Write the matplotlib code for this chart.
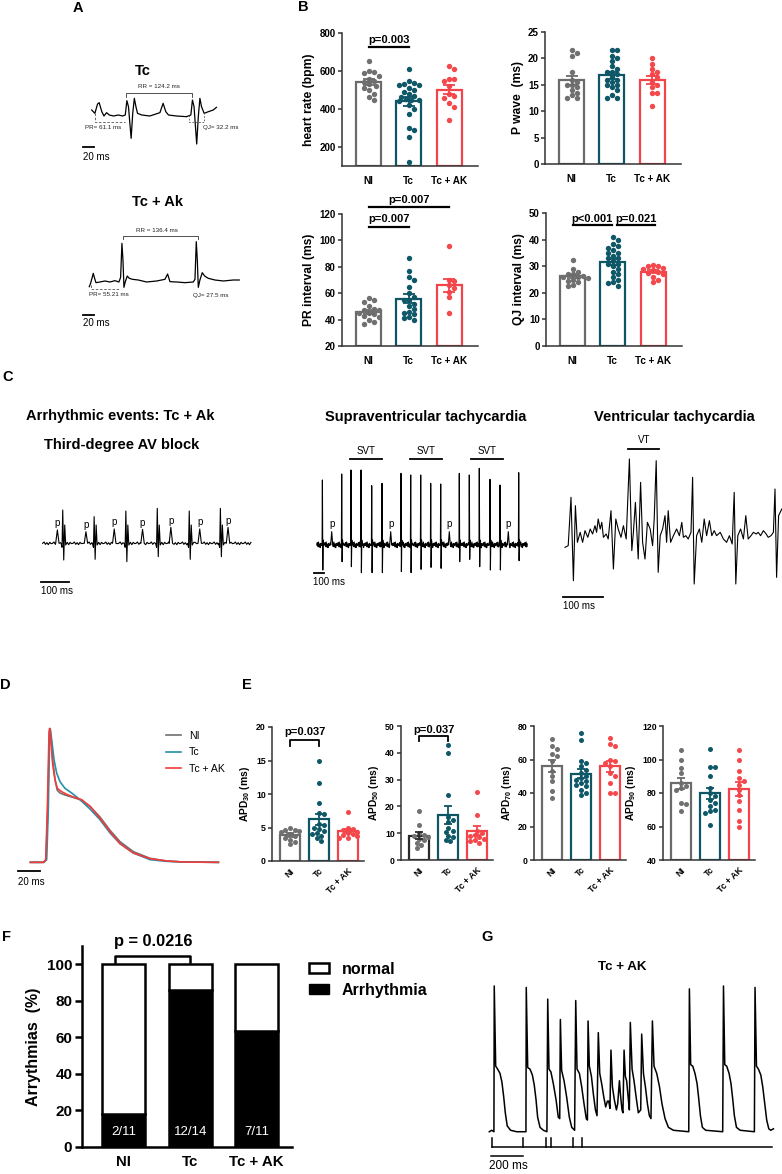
import numpy as np
import matplotlib
matplotlib.use("Agg")
import matplotlib.pyplot as plt
from matplotlib.patches import Patch

plt.rcParams.update({
    "font.family": ["Liberation Sans", "DejaVu Sans"],
    "mathtext.fontset": "custom",
    "mathtext.rm": "Liberation Sans",
    "mathtext.bf": "Liberation Sans:bold",
    "mathtext.default": "bf",
    "axes.linewidth": 1.1,
    "axes.edgecolor": "#333333",
    "xtick.color": "#333333",
    "ytick.color": "#333333",
    "xtick.labelcolor": "black",
    "ytick.labelcolor": "black",
})

W, H = 782, 1174

# ---------------- data ----------------
GROUPS = ["NI", "Tc", "Tc + AK"]
EDGE = ["#6b6b6b", "#0e5566", "#f2444a"]
DOTC = ["#707070", "#0f5868", "#f4484b"]

# B: ECG parameters
heart_ni = [655, 600, 595, 590, 575, 560, 545, 540, 530, 520, 510, 500, 480, 450, 465]
heart_tc = [610, 545, 535, 530, 528, 525, 510, 500, 490, 480, 470, 465, 455, 450, 445,
            440, 420, 400, 375, 300, 290, 255, 120]
heart_ak = [625, 610, 560, 550, 560, 520, 480, 470, 460, 430, 410, 340]

pwave_ni = [21.5, 20.5, 21, 17.5, 16, 15.5, 15, 14, 13.5, 13, 12.5, 12.5, 15, 14.5]
pwave_tc = [21.5, 21.5, 20, 20.5, 19.5, 18, 18.5, 17.5, 17, 16.5, 16, 15.5, 15, 14.5,
            14, 13, 12.5, 12.5, 17.5, 16, 15]
pwave_ak = [20, 19, 18, 17.5, 17, 16.5, 15.5, 14.5, 13.5, 13.5, 11, 15]

pr_ni = [56, 55, 53, 50, 48, 47, 45, 45, 43, 42, 40, 38, 37, 44, 47]
pr_tc = [87, 77, 72, 70, 65, 60, 57, 55, 52, 50, 48, 46, 45, 44, 42, 41, 40, 55]
pr_ak = [96, 70, 69, 66, 64, 61, 57, 45]

qj_ni = [32.5, 29, 28, 27, 26.5, 26, 25.5, 25, 24.5, 24, 23, 22.5, 27, 26]
qj_tc = [41, 40, 38.5, 37.5, 37, 36, 35, 34, 33, 32, 31, 30, 29, 28, 27, 26, 25, 24,
         23.5, 22.5, 31, 33, 35]
qj_ak = [30.5, 30, 30, 29.5, 29, 28.5, 28, 27.5, 27, 26, 25, 24]

# E: action potential durations
apd30_ni = [4.9, 4.7, 4.5, 4.3, 4.0, 3.8, 3.5, 3.2, 2.8, 2.5, 4.6]
apd30_tc = [15, 11.7, 8.6, 7.2, 7.0, 5.5, 5.0, 4.8, 4.5, 4.2, 4.0, 3.8, 3.5, 3.0, 5.3]
apd30_ak = [7.3, 5.0, 4.8, 4.6, 4.4, 4.2, 4.0, 3.9, 3.7, 3.5, 3.4]

apd50_ni = [18.3, 13.2, 10, 9.5, 9, 8.5, 8, 7.5, 6.5, 5.5, 4.5]
apd50_tc = [43, 40, 24.2, 16, 15, 14, 12, 11, 10.5, 9, 8.5, 7.5, 7]
apd50_ak = [25.3, 16.8, 11, 10, 9.5, 9, 8.5, 8, 7.5, 7, 6.5]

apd70_ni = [72, 68, 66, 63, 62, 59, 53, 50, 47, 41, 37]
apd70_tc = [76, 71.5, 59, 58, 56, 54, 52, 50, 49, 48, 47, 46, 45, 44, 42, 40, 39]
apd70_ak = [73, 69, 68, 60, 59, 58, 56, 50, 46, 40, 40, 52]

apd90_ni = [105.5, 99.5, 95, 92, 86, 84, 82, 74, 73.5, 69, 83]
apd90_tc = [106, 95.5, 95.5, 90, 80, 78, 76, 74, 72, 70, 69, 68, 61, 83]
apd90_ak = [105.5, 99.5, 93, 89, 87, 85, 82, 79, 75, 70, 63, 60]

# F: arrhythmia counts
arr_n = [2, 12, 7]
tot_n = [11, 14, 11]

# A: ECG traces (ms, mV)
a1_t = [0, 3, 6, 11, 14, 19, 23, 28, 33, 41, 50, 58, 63, 66, 69, 74, 77, 80, 83, 86, 94,
        109, 128, 134, 139, 144, 159, 178, 186, 189, 192, 197, 200, 203, 206, 211, 219, 228, 234]
a1_v = [0.15, 0.10, 0.05, 0.33, 0.37, 0.10, -0.03, 0.07, 0, -0.03, 0, -0.03, 0, 0.43, 0.25,
        -0.70, 0.05, 0.50, 0.25, 0.05, 0, -0.03, 0.07, 0.35, 0.10, 0, -0.03, -0.05, 0, 0.45,
        0.25, -0.87, -0.05, 0.50, 0.25, 0.05, 0.10, 0.15, 0.23]
a2_t = [0, 2.4, 4.9, 7.3, 9.8, 12.2, 19.6, 28.7, 37.9, 47.1, 54.4, 57.5, 59.9, 61.8, 63.6,
        66.1, 69.7, 73.4, 79.5, 89.9, 105.2, 123.5, 138.8, 143.7, 148, 160.2, 175.5, 190.8,
        193.9, 196.3, 198.2, 200, 203, 207.3, 211.6, 218.3, 230.6, 245.9, 264.2, 275.2]
a2_v = [-0.15, -0.05, 0.10, 0.25, 0.10, -0.03, -0.01, 0.02, -0.01, 0.03, -0.01, 0.13, 1.15,
        0.65, -0.17, 0, 0.17, 0.10, 0.07, 0.05, -0.01, 0.02, 0.07, 0.23, 0, -0.01, -0.03,
        -0.01, 0.07, 1.20, 0.65, -0.17, 0.05, 0.27, 0.17, 0.10, 0.05, 0.02, 0.05, 0.05]

# C: third-degree AV block (QRS times / heights, P times / heights)
c1_qrs_t = [71, 182, 294, 405, 518, 628]
c1_r = [1.0, 0.8, 0.97, 1.05, 0.97, 1.05]
c1_s = [-0.5, -0.48, -0.55, -0.4, -0.48, -0.4]
c1_p_t = [52, 153, 253, 353, 453, 555, 655]
c1_p_amp = [0.40, 0.35, 0.43, 0.42, 0.48, 0.43, 0.48]
c1_end = 738

# C: supraventricular tachycardia
svt_t = [57, 250, 343, 443, 550, 653, 843, 940, 1040, 1140, 1240, 1426, 1526, 1626, 1733,
         1833, 2020]
svt_top = [1.95, 2.13, 2.25, 2.25, 1.78, 1.85, 2.15, 2.1, 2.1, 1.85, 1.83, 2.15, 2.1, 2.3,
           1.97, 1.8, 2.17]
svt_bot = [-0.75, -0.5, -0.65, -0.83, -0.83, -0.83, -0.8, -0.83, -0.73, -0.67, -0.7, -0.5,
           -0.43, -0.65, -0.75, -0.75, -0.47]
svt_p_t = [150, 740, 1326, 1916]
svt_runs = [(333, 650), (933, 1256), (1543, 1866)]
svt_end = 2107

# C: ventricular tachycardia
vt_t = [0, 8, 15, 21, 26, 31, 38, 44, 50, 57, 63, 69, 75, 79, 83, 88, 92, 96, 103, 108, 115,
        121, 127, 133, 140, 146, 153, 156, 161, 167, 171, 176, 183, 189, 194, 200, 206, 213,
        219, 223, 228, 233, 238, 244, 250, 254, 258, 264, 271, 279, 286, 292, 296, 302, 308,
        315, 319, 323, 329, 336, 342, 348, 354, 361, 367, 373, 379, 388, 396, 404, 411, 418,
        423, 427, 432, 439, 446, 452, 458, 465, 471, 478, 483, 489, 496, 503, 508, 515, 521,
        525, 529, 534, 542]
vt_v = [-0.25, -0.2, 1.25, -1.25, 1.0, -0.1, 0.2, -0.1, 0.25, 0.05, 0.3, 0.15, 0.4, 0.2,
        0.6, 0.3, 0.5, 0.05, 0.15, 0, 0.85, -0.9, 0.6, 0.3, 0.05, 0.4, 0, 0.9, 2.4, -0.35,
        0.2, 1.1, -0.6, 1.7, -0.1, -0.6, 0.5, 0.3, -0.2, 0.6, 2.35, -1.0, 0.1, 0.3, 0.7,
        -0.1, 0.85, -0.1, 0.1, 0.3, 0.1, 0.5, 0.05, 0.1, 0, 0.2, 1.85, -1.35, 0.1, 0.3, -0.1,
        0.6, 0.1, 0.55, 0.1, 0.25, 0.1, 0.2, 0, -0.1, 0.1, -0.15, 1.4, -1.35, 0.1, 0.3, 0,
        0.7, 0, 0.1, 0.2, 0.15, 0.2, 0.1, 0.25, 0.15, 0.05, 0.1, 0.2, 1.5, -1.15, 0.7, 0.9]
vt_run = (158, 236)

# D: averaged action potentials (ms, normalised)
d_ni_t = [-15, -3, -0.6, 0.9, 2.5, 3.1, 4.0, 5.5, 7.7, 9.8, 12.3, 16.9, 23.1, 30.8, 40.0,
          49.2, 58.5, 67.7, 80.0, 95.4, 110.8, 126.2, 158.5]
d_ni_v = [0, 0, 0.02, 0.39, 0.94, 1.0, 0.94, 0.77, 0.62, 0.54, 0.52, 0.505, 0.49, 0.47,
          0.42, 0.34, 0.24, 0.155, 0.08, 0.03, 0.01, 0.0025, 0]
d_tc_t = [-15, -2.5, 0, 1.5, 2.8, 3.4, 4.6, 6.8, 9.2, 12.3, 16.9, 23.1, 30.8, 40.0, 49.2,
          58.5, 67.7, 80.0, 95.4, 110.8, 126.2, 158.5]
d_tc_v = [0, 0, 0.02, 0.39, 0.99, 1.0, 0.92, 0.77, 0.67, 0.605, 0.555, 0.52, 0.47, 0.40,
          0.32, 0.22, 0.14, 0.07, 0.02, 0.0075, 0.0025, 0]
d_ak_t = [-15, -3, -0.9, 0.6, 2.2, 2.8, 3.7, 5.5, 7.7, 9.8, 13.8, 18.5, 24.6, 32.3, 40.0,
          49.2, 58.5, 67.7, 80.0, 95.4, 110.8, 126.2, 158.5]
d_ak_v = [0, 0, 0.02, 0.39, 0.98, 1.005, 0.93, 0.74, 0.62, 0.555, 0.53, 0.51, 0.49, 0.47,
          0.42, 0.33, 0.23, 0.14, 0.07, 0.0275, 0.01, 0.0025, 0]

# G: optical AP trace, Tc + AK (ms, normalised)
g_t = [0, 15, 29, 31, 40, 52, 67, 79, 90, 100, 112, 133, 171, 229, 231, 240, 254, 269, 281,
       292, 302, 317, 338, 360, 365, 373, 385, 400, 417, 431, 440, 444, 452, 467, 483, 500,
       515, 533, 540, 548, 563, 577, 592, 606, 613, 617, 625, 638, 650, 663, 673, 681, 690,
       702, 715, 727, 738, 746, 754, 760, 769, 781, 794, 802, 813, 819, 829, 835, 842, 850,
       858, 869, 875, 881, 892, 904, 917, 931, 946, 952, 963, 975, 988, 1000, 1010, 1019,
       1029, 1046, 1063, 1079, 1098, 1119, 1150, 1246, 1250, 1258, 1271, 1285, 1298, 1308,
       1319, 1331, 1352, 1458, 1463, 1471, 1483, 1498, 1510, 1521, 1531, 1544, 1567, 1656,
       1660, 1669, 1681, 1696, 1708, 1721, 1733, 1746, 1758, 1775]
g_v = [0, 0.01, 0, 1.0, 0.45, 0.43, 0.40, 0.34, 0.24, 0.13, 0.04, 0.01, 0, 0, 0.99, 0.44,
       0.43, 0.39, 0.32, 0.22, 0.10, 0.03, 0.01, 0, 0.91, 0.43, 0.41, 0.33, 0.22, 0.10, 0.09,
       0.77, 0.42, 0.35, 0.24, 0.10, 0.03, 0.01, 0.90, 0.43, 0.40, 0.31, 0.19, 0.09, 0.08,
       0.76, 0.45, 0.38, 0.26, 0.15, 0.11, 0.68, 0.40, 0.33, 0.24, 0.17, 0.21, 0.21, 0.16,
       0.56, 0.31, 0.22, 0.15, 0.19, 0.35, 0.26, 0.15, 0.13, 0.56, 0.38, 0.35, 0.22, 0.15,
       0.75, 0.43, 0.35, 0.24, 0.13, 0.15, 0.67, 0.40, 0.31, 0.19, 0.11, 0.09, 0.76, 0.45,
       0.40, 0.31, 0.19, 0.09, 0.03, 0.01, 0, 0.98, 0.46, 0.45, 0.40, 0.33, 0.23, 0.11, 0.03,
       0.01, 0, 1.0, 0.46, 0.45, 0.40, 0.33, 0.22, 0.11, 0.03, 0.01, 0, 0.99, 0.45, 0.43,
       0.39, 0.31, 0.19, 0.08, 0.02, 0.01, 0.02]
g_stim = [15, 208, 354, 385, 525, 581]

# ---------------- helpers ----------------
fig = plt.figure(figsize=(W / 100, H / 100), dpi=100)


def add_box(l, t, w, h):
    return fig.add_axes([l / W, 1 - (t + h) / H, w / W, h / H])


def ftxt(x, y, s, **kw):
    fig.text(x / W, 1 - y / H, s, **kw)


def trace_ax(l, t, w, h, xlim, ylim):
    ax = add_box(l, t, w, h)
    ax.set_xlim(*xlim)
    ax.set_ylim(*ylim)
    ax.axis("off")
    return ax


def compose(events, t_end, wig, step):
    """Join beat shapes in time order, with a small baseline ripple between them."""
    ts, vs = [], []
    t, k = 0.0, 0
    for onset, st, sv in sorted(events, key=lambda e: e[0] + e[1][0]):
        start = onset + st[0]
        while t < start:
            ts.append(t)
            vs.append(wig[k % len(wig)])
            k += 1
            t += step
        ts.extend(onset + np.asarray(st, float))
        vs.extend(sv)
        t = onset + st[-1] + step
    while t <= t_end:
        ts.append(t)
        vs.append(wig[k % len(wig)])
        k += 1
        t += step
    return np.array(ts), np.array(vs)


def swarm(ax, vals, d_px):
    bb = ax.get_position()
    ppx = bb.width * W / np.diff(ax.get_xlim())[0]
    ppy = bb.height * H / np.diff(ax.get_ylim())[0]
    ys = np.asarray(vals, float) * ppy
    cands = [0.0]
    for j in range(1, 40):
        cands += [j * d_px * 0.5, -j * d_px * 0.5]
    placed, offs = [], np.zeros(len(ys))
    for idx in np.argsort(-ys):
        y = ys[idx]
        for c in cands:
            if all((c - px) ** 2 + (y - py) ** 2 >= d_px ** 2 for px, py in placed):
                break
        placed.append((c, y))
        offs[idx] = c / ppx
    return offs


def bar_panel(box, data, ylim, yticks, ylabel, xlim, bw, fs_tick, fs_lab, fs_x,
              rot=0, edges=EDGE, dot_d=5.0, s=15, cap=4, lw=1.6):
    ax = add_box(*box)
    ax.set_xlim(*xlim)
    ax.set_ylim(*ylim)
    for sp in ["top", "right"]:
        ax.spines[sp].set_visible(False)
    for i, vals in enumerate(data):
        vals = np.asarray(vals, float)
        m = vals.mean()
        sem = vals.std(ddof=1) / np.sqrt(len(vals))
        ax.bar(i, m - ylim[0], bottom=ylim[0], width=bw, facecolor="white",
               edgecolor=edges[i], linewidth=lw, zorder=1)
        offs = swarm(ax, vals, dot_d)
        ax.scatter(i + offs, vals, s=s, color=DOTC[i], linewidths=0, zorder=3)
        ax.errorbar(i, m, yerr=sem, fmt="none", ecolor=edges[i], elinewidth=1.3,
                    capsize=cap, capthick=1.3, zorder=4)
    ax.set_yticks(yticks)
    ax.set_xticks(range(3))
    if rot:
        ax.set_xticklabels(GROUPS, rotation=rot, ha="right", rotation_mode="anchor",
                           fontsize=fs_x, fontweight="bold")
        ax.tick_params(axis="x", length=0, pad=4)
    else:
        ax.set_xticklabels(GROUPS, fontsize=fs_x, fontweight="bold")
        ax.tick_params(axis="x", length=0, pad=7)
    ax.tick_params(axis="y", labelsize=fs_tick, length=3, width=1.1, pad=1.5)
    for lab in ax.get_yticklabels():
        lab.set_fontweight("bold")
    ax.set_ylabel(ylabel, fontsize=fs_lab, fontweight="bold", labelpad=3)
    return ax


def underline(ax, x0, x1, y, ty, label, fs=8):
    ax.plot([x0, x1], [y, y], color="black", lw=1.6, clip_on=False, zorder=5)
    ax.text((x0 + x1) / 2, ty, label, ha="center", va="center", fontsize=fs,
            fontweight="bold", clip_on=False)


def bracket(ax, x0, x1, y, leg, ty, label, fs=8, lw=1.3):
    ax.plot([x0, x0, x1, x1], [y - leg, y, y, y - leg], color="black", lw=lw,
            clip_on=False, zorder=5)
    ax.text((x0 + x1) / 2, ty, label, ha="center", va="center", fontsize=fs,
            fontweight="bold", clip_on=False)


LETTER = dict(fontsize=10.5, fontweight="bold", ha="left", va="center")
TITLE = dict(fontsize=10.5, fontweight="bold", ha="center", va="center")

# ---------------- panel A ----------------
ftxt(73, 8, "A", **LETTER)
ftxt(143, 71, "Tc", **TITLE)
ftxt(158, 202, "Tc + Ak", **TITLE)

ax = trace_ax(75, 80, 170, 85, (-31.3, 287.6), (-1.5, 1.05))
ax.plot(a1_t, a1_v, color="black", lw=0.9)
ax.plot([64, 64, 189, 189], [0.55, 0.65, 0.65, 0.55], color="#333333", lw=0.6)
ax.text(127, 0.87, "RR = 124.2 ms", fontsize=4.5, ha="center", va="center", color="#222222")
ax.plot([6, 6, 62], [0.05, -0.2, -0.2], color="#555555", lw=0.6, ls=(0, (3, 2)))
ax.plot([183, 183, 211, 211], [0.0, -0.2, -0.2, 0.05], color="#555555", lw=0.6, ls=(0, (2, 2)))
ax.text(-12.5, -0.37, "PR= 61.1 ms", fontsize=4.5, ha="left", va="center", color="#222222")
ax.text(209, -0.37, "QJ= 32.2 ms", fontsize=4.5, ha="left", va="center", color="#222222")
ax.plot([-15.6, 4.4], [-0.96, -0.96], color="black", lw=1.3, clip_on=False)
ax.text(-15.6, -1.27, "20 ms", fontsize=7, ha="left", va="center")

ax = trace_ax(75, 200, 170, 130, (-26.2, 285.7), (-1.45, 2.45))
ax.plot(a2_t, a2_v, color="black", lw=0.9)
ax.plot([62.4, 62.4, 200, 200], [1.27, 1.37, 1.37, 1.27], color="#333333", lw=0.6)
ax.text(123.5, 1.55, "RR = 136.4 ms", fontsize=4.5, ha="center", va="center", color="#222222")
ax.plot([2.4, 2.4, 56], [-0.1, -0.23, -0.23], color="#555555", lw=0.6, ls=(0, (3, 2)))
ax.text(0, -0.4, "PR= 55.21 ms", fontsize=4.5, ha="left", va="center", color="#222222")
ax.text(190, -0.4, "QJ= 27.5 ms", fontsize=4.5, ha="left", va="center", color="#222222")
ax.plot([-11.6, 8.4], [-1.0, -1.0], color="black", lw=1.3, clip_on=False)
ax.text(-11.6, -1.25, "20 ms", fontsize=7, ha="left", va="center")

# ---------------- panel B ----------------
ftxt(298, 7, "B", **LETTER)
BX = (-0.66, 2.72)
ax = bar_panel((342, 33, 136, 133), [heart_ni, heart_tc, heart_ak], (100, 800),
               [200, 400, 600, 800], "heart rate (bpm)", BX, 0.62, 7, 8.7, 7.2)
underline(ax, 0, 1, 726, 763, "p=0.003")
bar_panel((545, 32, 136, 132), [pwave_ni, pwave_tc, pwave_ak], (0, 25),
          [0, 5, 10, 15, 20, 25], "P wave  (ms)", BX, 0.62, 7, 8.7, 7.2)
ax = bar_panel((342, 214, 136, 132), [pr_ni, pr_tc, pr_ak], (20, 120),
               [20, 40, 60, 80, 100, 120], "PR interval (ms)", BX, 0.62, 7, 8.7, 7.2)
underline(ax, 0, 1, 110, 116, "p=0.007")
underline(ax, 0, 2, 125.3, 130.8, "p=0.007")
ax = bar_panel((546, 213, 136, 133), [qj_ni, qj_tc, qj_ak], (0, 50),
               [0, 10, 20, 30, 40, 50], "QJ interval (ms)", BX, 0.62, 7, 8.7, 7.2)
underline(ax, 0, 0.98, 45.5, 47.8, "p<0.001")
underline(ax, 1.1, 2.05, 45.5, 47.8, "p=0.021")

# ---------------- panel C ----------------
ftxt(2, 377, "C", **LETTER)
ftxt(120, 416, "Arrhythmic events: Tc + Ak", **TITLE)
ftxt(122, 445, "Third-degree AV block", **TITLE)
ftxt(426, 417, "Supraventricular tachycardia", **TITLE)
ftxt(674, 417, "Ventricular tachycardia", **TITLE)

ev = []
for t0, r, sd in zip(c1_qrs_t, c1_r, c1_s):
    ev.append((t0, [-6, -2.5, 0, 3.5, 7, 10.5, 16], [0, -0.12, r, sd, 0.55, -0.05, 0.03]))
for t0, a in zip(c1_p_t, c1_p_amp):
    ev.append((t0, [-6, 0, 6], [0, a, 0]))
c1_x, c1_y = compose(ev, c1_end, [0.0, 0.04, -0.03, 0.02, -0.04, 0.03, -0.01], 5)
ax = trace_ax(35, 495, 225, 105, (-27, 768), (-1.7, 1.45))
ax.plot(c1_x, c1_y, color="black", lw=0.8)
for t0, a in zip(c1_p_t, c1_p_amp):
    ax.text(t0, a + 0.2, "p", fontsize=7, ha="center", va="center")
ax.plot([-7, 93], [-1.15, -1.15], color="black", lw=1.3, clip_on=False)
ax.text(-7, -1.42, "100 ms", fontsize=7, ha="left", va="center")

ev = []
for t0, tp, bt in zip(svt_t, svt_top, svt_bot):
    ev.append((t0, [-3, 0, 4, 8, 14], [0, tp, bt, 0.15, 0]))
for t0 in svt_p_t:
    ev.append((t0, [-10, 0, 10], [0, 0.4, 0]))
svt_x, svt_y = compose(ev, svt_end, [0.0, 0.07, -0.05, 0.09, -0.06, 0.03, -0.08, 0.05, -0.02], 6)
ax = trace_ax(305, 440, 230, 160, (-117, 2183), (-1.65, 3.15))
ax.plot(svt_x, svt_y, color="black", lw=0.8)
for t0 in svt_p_t:
    ax.text(t0, 0.62, "p", fontsize=7, ha="center", va="center")
for a, b in svt_runs:
    ax.plot([a, b], [2.57, 2.57], color="black", lw=1.3)
    ax.text((a + b) / 2, 2.83, "SVT", fontsize=7, ha="center", va="center")
ax.plot([-27, 73], [-0.83, -0.83], color="black", lw=1.3, clip_on=False)
ax.text(-33, -1.1, "100 ms", fontsize=7, ha="left", va="center")

ax = trace_ax(555, 440, 227, 180, (-25, 542.5), (-2.43, 2.97))
ax.plot(vt_t, vt_v, color="black", lw=0.8)
ax.plot(vt_run, [2.7, 2.7], color="black", lw=1.3)
ax.text(sum(vt_run) / 2, 2.97, "VT", fontsize=7, ha="center", va="center")
ax.plot([-4, 96], [-1.73, -1.73], color="black", lw=1.3, clip_on=False)
ax.text(-5, -2.0, "100 ms", fontsize=7, ha="left", va="center")

# ---------------- panel D ----------------
ftxt(0, 685, "D", **LETTER)
ax = trace_ax(25, 720, 200, 170, (-20, 164.6), (-0.2075, 1.0675))
l1, = ax.plot(d_ni_t, d_ni_v, color="#707070", lw=1.2, label="NI")
l2, = ax.plot(d_tc_t, d_tc_v, color="#2490a6", lw=1.2, label="Tc")
l3, = ax.plot(d_ak_t, d_ak_v, color="#f23c3c", lw=1.2, label="Tc + AK")
ax.plot([-26, -6.2], [-0.0625, -0.0625], color="black", lw=1.3, clip_on=False)
ax.text(-26, -0.145, "20 ms", fontsize=7, ha="left", va="center")
ax.legend(handles=[l1, l2, l3], loc="upper left", bbox_to_anchor=(166 / W, 1 - 731 / H),
          bbox_transform=fig.transFigure, frameon=False, fontsize=7.6, handlelength=1.4,
          handletextpad=0.8, labelspacing=0.6, borderaxespad=0, borderpad=0)

# ---------------- panel E ----------------
ftxt(242, 685, "E", **LETTER)
EX = (-0.62, 2.55)
ax = bar_panel((272, 727, 92, 134), [apd30_ni, apd30_tc, apd30_ak], (0, 20),
               [0, 5, 10, 15, 20], "APD$_{30}$ (ms)", EX, 0.66, 6.3, 7.4, 6.3, rot=45,
               dot_d=4.6, s=13, cap=3)
bracket(ax, 0, 1, 18.1, 0.9, 19.2, "p=0.037")
ax = bar_panel((401, 726, 92, 134), [apd50_ni, apd50_tc, apd50_ak], (0, 50),
               [0, 10, 20, 30, 40, 50], "APD$_{50}$ (ms)", EX, 0.66, 6.3, 7.4, 6.3, rot=45,
               edges=["#2a2a2a", EDGE[1], EDGE[2]], dot_d=4.6, s=13, cap=3)
bracket(ax, 0, 1, 46.3, 1.9, 48.6, "p=0.037")
bar_panel((534, 726, 92, 134), [apd70_ni, apd70_tc, apd70_ak], (0, 80),
          [0, 20, 40, 60, 80], "APD$_{70}$ (ms)", EX, 0.66, 6.3, 7.4, 6.3, rot=45,
          dot_d=4.6, s=13, cap=3)
bar_panel((663, 726, 92, 134), [apd90_ni, apd90_tc, apd90_ak], (40, 120),
          [40, 60, 80, 100, 120], "APD$_{90}$ (ms)", EX, 0.66, 6.3, 7.4, 6.3, rot=45,
          dot_d=4.6, s=13, cap=3)

# ---------------- panel F ----------------
ftxt(2, 937, "F", **LETTER)
pct = [100 * a / b for a, b in zip(arr_n, tot_n)]
ax = add_box(82, 946, 210, 201)
ax.set_xlim(-0.63, 2.53)
ax.set_ylim(0, 110)
for sp in ["top", "right"]:
    ax.spines[sp].set_visible(False)
for sp in ["left", "bottom"]:
    ax.spines[sp].set_linewidth(1.8)
    ax.spines[sp].set_color("black")
x = np.arange(3)
ax.bar(x, pct, width=0.65, color="black", edgecolor="black", linewidth=1.8, zorder=2)
ax.bar(x, [100 - p for p in pct], bottom=pct, width=0.65, color="white",
       edgecolor="black", linewidth=1.8, zorder=2)
for i in range(3):
    ax.text(i, 8, f"{arr_n[i]}/{tot_n[i]}", color="white", fontsize=9.5, ha="center",
            va="center", zorder=3)
ax.set_xticks(x)
ax.set_xticklabels(GROUPS, fontsize=10.8, fontweight="bold")
ax.tick_params(axis="x", length=0, pad=6)
ax.set_yticks([0, 20, 40, 60, 80, 100])
ax.tick_params(axis="y", labelsize=11, length=5, width=1.8, color="black", pad=2)
for lab in ax.get_yticklabels():
    lab.set_fontweight("bold")
ax.set_ylabel("Arrythmias  (%)", fontsize=11.5, fontweight="bold", labelpad=4)
bracket(ax, -0.13, 1.0, 104.4, 3.3, 112.3, "p = 0.0216", fs=11.8, lw=1.8)
ax.legend(handles=[Patch(facecolor="white", edgecolor="black", linewidth=1.8, label="normal"),
                   Patch(facecolor="black", edgecolor="black", label="Arrhythmia")],
          loc="upper left", bbox_to_anchor=(309 / W, 1 - 962 / H),
          bbox_transform=fig.transFigure, frameon=False, handlelength=1.25,
          handleheight=0.6, handletextpad=0.8, labelspacing=0.35,
          prop={"size": 11.5, "weight": "bold"}, borderaxespad=0, borderpad=0)

# ---------------- panel G ----------------
ftxt(481, 937, "G", **LETTER)
ftxt(622, 967, "Tc + AK", fontsize=9.6, fontweight="bold", ha="center", va="center")
ax = trace_ax(480, 980, 300, 194, (-58, 1816), (-0.29, 1.041))
ax.plot(g_t, g_v, color="black", lw=1.1)
ax.plot([15, 1769], [-0.103, -0.103], color="black", lw=1.1)
for ts in g_stim:
    ax.plot([ts, ts], [-0.103, -0.046], color="black", lw=1.1)
ax.plot([8, 208], [-0.167, -0.167], color="black", lw=1.1)
ax.text(0, -0.236, "200 ms", fontsize=8.5, ha="left", va="center")

fig.savefig("out.png", dpi=100)
